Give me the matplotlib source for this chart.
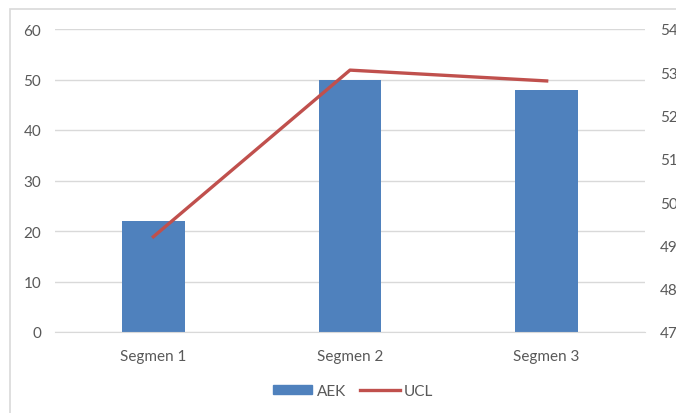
import matplotlib
matplotlib.use("Agg")
import matplotlib.pyplot as plt
from matplotlib.patches import Rectangle
from matplotlib.lines import Line2D

categories = ["Segmen 1", "Segmen 2", "Segmen 3"]
aek = [22, 50, 48]
ucl = [49.2, 53.05, 52.8]
left_ticks = [0, 10, 20, 30, 40, 50, 60]
right_ticks = [47, 48, 49, 50, 51, 52, 53, 54]

BAR = "#4F81BD"
LINE = "#C0504D"
TXT = "#595959"
GRID = "#D9D9D9"

plt.rcParams["font.family"] = ["Lato", "DejaVu Sans"]

W, H = 676, 414
fig = plt.figure(figsize=(W / 100, H / 100), dpi=100)

# outer chart frame (cropped on right/bottom in the reference)
fig.add_artist(Rectangle((10 / W, -0.1), 1.2, 1 - 10 / H + 0.1,
                         transform=fig.transFigure, fill=False,
                         edgecolor=GRID, lw=1.2))

ax = fig.add_axes([55 / W, 1 - 333 / H, (645 - 55) / W, (333 - 30) / H])
x = range(len(categories))
ax.bar(x, aek, width=0.32, color=BAR, zorder=2)
ax.set_xlim(-0.5, 2.5)
ax.set_ylim(0, 60)
ax.set_yticks(left_ticks)
ax.yaxis.grid(True, color=GRID, lw=1)
ax.set_axisbelow(True)
for s in ax.spines.values():
    s.set_visible(False)
ax.spines["bottom"].set_visible(True)
ax.spines["bottom"].set_color(GRID)
ax.tick_params(axis="both", length=0, colors=TXT, labelsize=11)
ax.tick_params(axis="y", pad=10)
ax.tick_params(axis="x", pad=12)
ax.set_xticks(list(x))
ax.set_xticklabels(categories)

ax2 = ax.twinx()
ax2.plot(list(x), ucl, color=LINE, lw=2.4, zorder=3)
ax2.set_ylim(47, 54)
ax2.set_yticks(right_ticks)
for s in ax2.spines.values():
    s.set_visible(False)
ax2.tick_params(axis="y", length=0, colors=TXT, labelsize=11, pad=11)

handles = [Rectangle((0, 0), 1, 1, color=BAR),
           Line2D([0], [0], color=LINE, lw=2.4)]
fig.legend(handles, ["AEK", "UCL"], loc="center", ncol=2,
           bbox_to_anchor=(353 / W, 1 - 392 / H), frameon=False,
           fontsize=11, labelcolor=TXT, handlelength=2.6,
           handletextpad=0.3, columnspacing=0.9, handleheight=0.6)

fig.savefig("out.png", dpi=100)
